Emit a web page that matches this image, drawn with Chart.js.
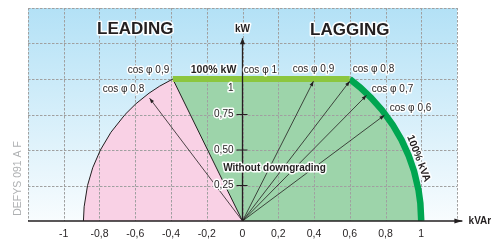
<!DOCTYPE html>
<html><head><meta charset="utf-8">
<style>html,body{margin:0;padding:0;background:#fff;overflow:hidden}canvas{display:block}</style>
<script src="https://cdn.jsdelivr.net/npm/chart.js@4.4.1/dist/chart.umd.min.js"></script>
</head><body>
<canvas id="c" width="503" height="242"></canvas>
<script>
// ---- data (kVAr on x, kW on y, per-unit) ----
const xGridValues = [-1.2,-1,-0.8,-0.6,-0.4,-0.2,0,0.2,0.4,0.6,0.8,1,1.2];
const xTickValues = [-1,-0.8,-0.6,-0.4,-0.2,0,0.2,0.4,0.6,0.8,1];
const xTickLabels = ['-1','-0,8','-0,6','-0,4','-0,2','0','0,2','0,4','0,6','0,8','1'];
const yGridValues = [0.25,0.5,0.75,1,1.25,1.5];
const yTickValues = [0.25,0.5,0.75,1];
const yTickLabels = ['0,25','0,50','0,75','1'];

// leading limit curve (pink zone boundary)
const leadKVAr = [-0.89,-0.886,-0.867,-0.838,-0.795,-0.736,-0.657,-0.597,-0.523,-0.463,-0.39];
const leadKW   = [0,0.1,0.25,0.375,0.5,0.625,0.75,0.825,0.9,0.95,1.0];
// 100% kVA arc (lagging)
const lagKVAr = [0.6,0.66,0.72,0.78,0.84,0.89,0.93,0.96,0.985,0.995,1.0];
const lagKW   = [1.0,0.939,0.867,0.782,0.678,0.57,0.459,0.35,0.216,0.125,0];
// power factor vectors
const vectorNames = ['cos φ 0,8 (leading)','cos φ 0,9','cos φ 0,8','cos φ 0,7','cos φ 0,6'];
const vectorKVAr = [-0.52,0.397,0.6,0.694,0.794];
const vectorKW   = [0.865,0.985,0.985,0.885,0.745];
const axisKWTop = 1.287;
const axisKVArEnd = 1.23;

// ---- build datasets ----
const pts = (xs, ys) => xs.map((x, i) => ({x, y: ys[i]}));
const leadPts = pts(leadKVAr, leadKW);
const lagPts = pts(lagKVAr, lagKW);
const kwTop = leadKW[leadKW.length-1];
const leadTop = leadKVAr[leadKVAr.length-1];

const base = {showLine: true, pointRadius: 0, tension: 0, fill: false, borderCapStyle: 'butt'};
const datasets = [
  Object.assign({}, base, {label:'green zone', isFill:true, order:5, fill:'origin',
    data:[{x:leadTop,y:kwTop}].concat(lagPts), backgroundColor:'#9dd4aa', borderWidth:0, borderColor:'rgba(0,0,0,0)'}),
  Object.assign({}, base, {label:'pink zone', isFill:true, order:4, fill:'origin',
    data:leadPts.concat([{x:0,y:0}]), backgroundColor:'#f9d1e5', borderWidth:0, borderColor:'rgba(0,0,0,0)'}),
  Object.assign({}, base, {label:'leading curve', order:2, data:leadPts, borderColor:'#231f20', borderWidth:1}),
  Object.assign({}, base, {label:'leading limit', order:2, data:[{x:0,y:0},{x:leadTop,y:kwTop}], borderColor:'#231f20', borderWidth:1}),
  Object.assign({}, base, {label:'100% kW', order:1, data:[{x:leadTop,y:kwTop},{x:lagKVAr[0],y:kwTop}], borderColor:'#8cc63f', borderWidth:6}),
  Object.assign({}, base, {label:'100% kVA', order:1, data:lagPts, borderColor:'#00a651', borderWidth:6.5}),
  Object.assign({}, base, {label:'kW axis', order:0, arrow:[6,2.6], data:[{x:0,y:0},{x:0,y:axisKWTop}], borderColor:'#231f20', borderWidth:1.3}),
  Object.assign({}, base, {label:'kVAr axis', order:0, arrow:[8,2.6], clip:false, data:[{x:-1.2,y:0},{x:axisKVArEnd,y:0}], borderColor:'#231f20', borderWidth:1.5})
];
vectorNames.forEach((n, i) => {
  datasets.push(Object.assign({}, base, {label:n, order:0, arrow:[5,1.8],
    data:[{x:0,y:0},{x:vectorKVAr[i],y:vectorKW[i]}], borderColor:'#231f20', borderWidth:0.8}));
});

const FONT = '"Liberation Sans", Arial, Helvetica, sans-serif';
const notes = [
  {t:'LEADING', x:-0.6, y:1.35, f:'bold 17px '+FONT},
  {t:'LAGGING', x:0.6, y:1.343, f:'bold 17px '+FONT},
  {t:'kW', x:0, y:1.35, f:'bold 10px '+FONT},
  {t:'kVAr', x:1.265, y:0, f:'bold 10px '+FONT, a:'left'},
  {t:'100% kW', x:-0.162, y:1.063, f:'bold 10.5px '+FONT},
  {t:'cos φ 1', x:0.1, y:1.063, f:'10px '+FONT},
  {t:'cos φ 0,9', x:0.397, y:1.07, f:'10px '+FONT},
  {t:'cos φ 0,8', x:0.733, y:1.07, f:'10px '+FONT},
  {t:'cos φ 0,7', x:0.839, y:0.93, f:'10px '+FONT},
  {t:'cos φ 0,6', x:0.94, y:0.797, f:'10px '+FONT},
  {t:'cos φ 0,9', x:-0.526, y:1.063, f:'10px '+FONT},
  {t:'cos φ 0,8', x:-0.666, y:0.93, f:'10px '+FONT},
  {t:'Without downgrading', x:0.179, y:0.37, f:'bold 10px '+FONT},
  {t:'100% kVA', x:0.985, y:0.44, f:'bold 10.5px '+FONT, r:69}
];

function txt(ctx, t, x, y, font, align, rot, halo, color) {
  ctx.save();
  ctx.translate(x, y);
  if (rot) ctx.rotate(rot * Math.PI / 180);
  ctx.font = font;
  ctx.textAlign = align || 'center';
  ctx.textBaseline = 'middle';
  if (halo) {
    ctx.lineJoin = 'round';
    ctx.lineWidth = 3;
    ctx.strokeStyle = 'rgba(255,255,255,0.95)';
    ctx.strokeText(t, 0, 0);
  }
  ctx.fillStyle = color || '#231f20';
  ctx.fillText(t, 0, 0);
  ctx.restore();
}

const decor = {
  id: 'decor',
  beforeDatasetsDraw(chart) {
    const {ctx, chartArea: a} = chart;
    const g = ctx.createLinearGradient(0, a.top, 0, a.bottom);
    g.addColorStop(0, '#b3e1f6');
    g.addColorStop(1, '#f8fcfe');
    ctx.save();
    ctx.fillStyle = g;
    ctx.fillRect(a.left, a.top, a.right - a.left, a.bottom - a.top);
    ctx.restore();
    chart.$gridDone = false;
  },
  beforeDatasetDraw(chart, args) {
    if (chart.$gridDone) return;
    if (chart.data.datasets[args.index].isFill) return;
    chart.$gridDone = true;
    const {ctx, chartArea: a, scales: {x: xs, y: ys}} = chart;
    ctx.save();
    ctx.strokeStyle = '#a0a0a0';
    ctx.lineWidth = 1;
    ctx.setLineDash([2.5, 1.5]);
    ctx.beginPath();
    xGridValues.forEach(v => {
      const p = Math.round(xs.getPixelForValue(v)) + 0.5;
      ctx.moveTo(p, a.top); ctx.lineTo(p, a.bottom);
    });
    yGridValues.forEach(v => {
      const p = Math.round(ys.getPixelForValue(v)) + 0.5;
      ctx.moveTo(a.left, p); ctx.lineTo(a.right, p);
    });
    ctx.stroke();
    ctx.restore();
  },
  afterDatasetsDraw(chart) {
    const {ctx, chartArea: a, scales: {x: xs, y: ys}} = chart;
    // arrowheads
    chart.data.datasets.forEach((ds, i) => {
      if (!ds.arrow) return;
      const m = chart.getDatasetMeta(i);
      const p0 = m.data[0], p1 = m.data[m.data.length - 1];
      const ang = Math.atan2(p1.y - p0.y, p1.x - p0.x);
      const L = ds.arrow[0], W = ds.arrow[1];
      const c = Math.cos(ang), s = Math.sin(ang);
      ctx.save();
      ctx.fillStyle = ds.borderColor;
      ctx.beginPath();
      ctx.moveTo(p1.x, p1.y);
      ctx.lineTo(p1.x - L * c - W * s, p1.y - L * s + W * c);
      ctx.lineTo(p1.x - L * c + W * s, p1.y - L * s - W * c);
      ctx.closePath();
      ctx.fill();
      ctx.restore();
    });
    // y tick marks
    const x0 = xs.getPixelForValue(0);
    ctx.save();
    ctx.strokeStyle = '#231f20';
    ctx.lineWidth = 1.2;
    ctx.beginPath();
    yTickValues.slice(0, 3).forEach(v => {
      const p = ys.getPixelForValue(v);
      ctx.moveTo(x0 - 6, p); ctx.lineTo(x0 + 5, p);
    });
    ctx.stroke();
    ctx.restore();
    // y tick labels
    yTickValues.forEach((v, i) => {
      let p = ys.getPixelForValue(v);
      if (v === kwTop) p += 9;
      txt(ctx, yTickLabels[i], x0 - 9, p, '10px ' + FONT, 'right', 0, true);
    });
    // x tick labels
    xTickValues.forEach((v, i) => {
      txt(ctx, xTickLabels[i], xs.getPixelForValue(v), a.bottom + 13, '10.5px ' + FONT, 'center', 0, false);
    });
    // annotations
    notes.forEach(n => {
      txt(ctx, n.t, xs.getPixelForValue(n.x), ys.getPixelForValue(n.y), n.f, n.a, n.r, true);
    });
    // reference code
    txt(ctx, 'DEFYS 091 A F', a.left - 10, ys.getPixelForValue(0.3), '10.5px ' + FONT, 'center', -90, false, '#aeb0b2');
  }
};

new Chart(document.getElementById('c'), {
  type: 'scatter',
  data: {datasets},
  options: {
    responsive: false,
    devicePixelRatio: 1,
    animation: false,
    events: [],
    layout: {padding: {left: 28, right: 46, top: 8, bottom: 21}},
    elements: {point: {radius: 0}},
    plugins: {legend: {display: false}, tooltip: {enabled: false}},
    scales: {
      x: {type: 'linear', min: -1.2, max: 1.2, display: false},
      y: {type: 'linear', min: 0, max: 1.5, display: false}
    }
  },
  plugins: [decor]
});
</script>
</body></html>
